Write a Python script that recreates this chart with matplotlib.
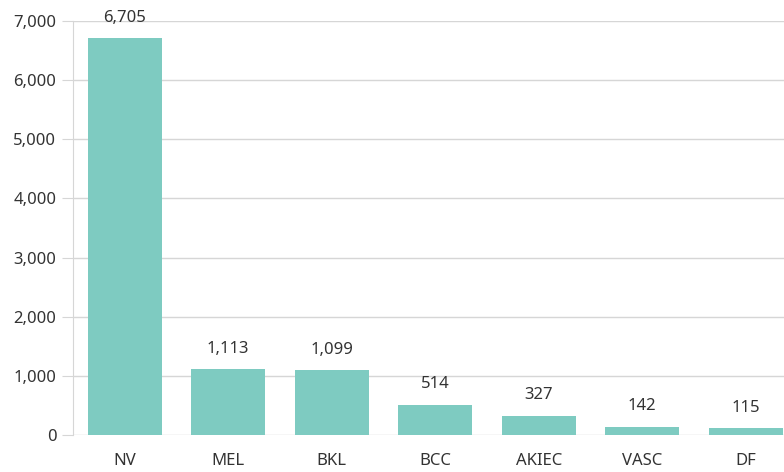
import matplotlib
matplotlib.use("Agg")
import matplotlib.pyplot as plt
from matplotlib.ticker import FuncFormatter

categories = ["NV", "MEL", "BKL", "BCC", "AKIEC", "VASC", "DF"]
counts = [6705, 1113, 1099, 514, 327, 142, 115]
yticks = [0, 1000, 2000, 3000, 4000, 5000, 6000, 7000]

plt.rcParams['font.family'] = ['Noto Sans', 'DejaVu Sans']
fig = plt.figure(figsize=(7.84, 4.72), dpi=100)
ax = fig.add_axes([73/784, 1-435/472, 1-73/784, (435-21)/472])

bar_color = "#7ecbc1"
text_color = "#333333"
grid_color = "#d6d6d6"
fs = 12

x = list(range(len(categories)))
bars = ax.bar(x, counts, width=0.715, color=bar_color, zorder=3)
for xi, v in zip(x, counts):
    ax.annotate(f"{v:,}", (xi, v), xytext=(0, 9), textcoords="offset points",
                ha="center", va="bottom", fontsize=fs, color=text_color,
                annotation_clip=False)

ax.set_xlim(-0.5, 6.37)
ax.set_ylim(0, 7000)
ax.set_yticks(yticks)
ax.yaxis.set_major_formatter(FuncFormatter(lambda v, p: f"{int(v):,}"))
ax.set_xticks(x)
ax.set_xticklabels(categories)
ax.grid(axis="y", color=grid_color, linewidth=1, zorder=0)
for s in ["top", "right", "bottom"]:
    ax.spines[s].set_visible(False)
ax.spines["left"].set_color(grid_color)
ax.tick_params(axis="y", length=8, color=grid_color, labelsize=fs, labelcolor=text_color, pad=4)
ax.tick_params(axis="x", length=0, labelsize=fs, labelcolor=text_color, pad=13)

fig.savefig("out.png", dpi=100)
